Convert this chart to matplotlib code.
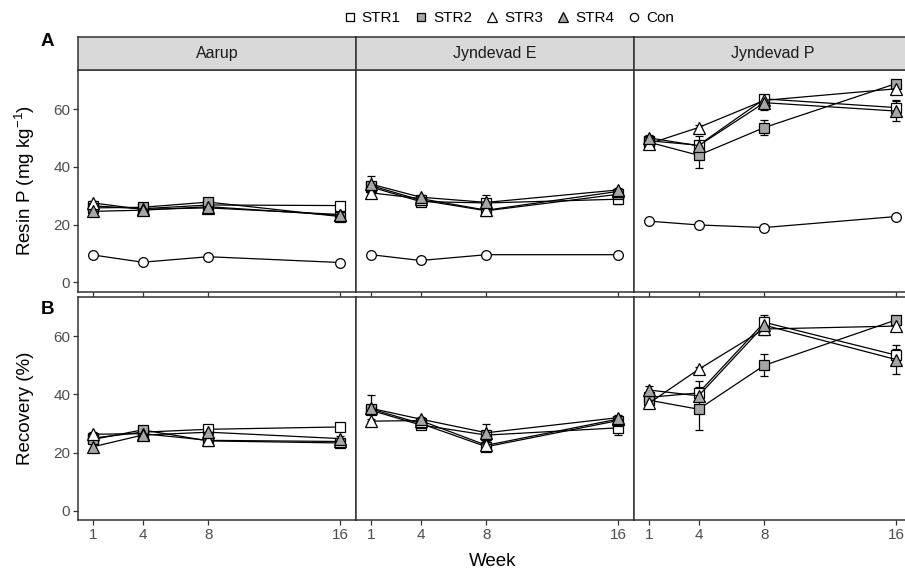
import matplotlib
matplotlib.use("Agg")
import matplotlib.pyplot as plt
from matplotlib.lines import Line2D

plt.rcParams['font.family'] = ['Liberation Sans', 'DejaVu Sans']
plt.rcParams['mathtext.fontset'] = 'custom'
plt.rcParams['mathtext.rm'] = 'Liberation Sans'
plt.rcParams['mathtext.it'] = 'Liberation Sans:italic'
plt.rcParams['mathtext.bf'] = 'Liberation Sans:bold'

# ---------------- data ----------------
weeks = [1, 4, 8, 16]
sites = ["Aarup", "Jyndevad E", "Jyndevad P"]
series = ["STR1", "STR2", "STR3", "STR4", "Con"]

# Resin P (mg kg-1): rows = STR1, STR2, STR3, STR4, Con
resin_aarup = [[26.5, 25.5, 26.8, 26.6],
               [25.8, 26.0, 27.8, 22.8],
               [27.5, 25.3, 25.8, 23.5],
               [24.6, 25.0, 26.2, 23.2],
               [9.5, 7.0, 8.9, 6.9]]
resin_aarup_err = [[0.8, 0.8, 0.8, 0.8],
                   [0.8, 0.8, 0.8, 0.8],
                   [0.8, 0.8, 0.8, 0.8],
                   [0.8, 0.8, 0.8, 0.8],
                   [0.3, 0.3, 0.3, 0.3]]
resin_jyne = [[33.0, 28.0, 27.5, 28.8],
              [33.5, 28.5, 24.8, 30.5],
              [31.0, 29.0, 25.0, 31.5],
              [34.0, 29.5, 27.7, 32.0],
              [9.6, 7.6, 9.6, 9.6]]
resin_jyne_err = [[1.0, 0.8, 0.8, 1.5],
                  [1.0, 0.8, 0.8, 0.8],
                  [0.8, 0.8, 0.8, 0.8],
                  [3.0, 0.8, 2.5, 0.8],
                  [0.3, 0.3, 0.3, 0.3]]
resin_jynp = [[49.0, 47.5, 63.5, 60.5],
              [48.5, 44.0, 53.6, 68.8],
              [48.0, 53.6, 63.0, 67.0],
              [50.0, 47.3, 62.2, 59.3],
              [21.2, 19.9, 19.0, 22.8]]
resin_jynp_err = [[1.0, 1.5, 1.0, 2.5],
                  [1.0, 4.5, 2.7, 1.0],
                  [0.8, 0.8, 0.8, 1.0],
                  [1.0, 3.5, 2.5, 3.5],
                  [0.3, 0.3, 0.3, 0.3]]

# Recovery (%)
rec_aarup = [[25.0, 27.0, 28.0, 28.8],
             [24.5, 27.8, 24.0, 23.3],
             [26.3, 26.5, 24.2, 23.8],
             [22.0, 26.0, 27.0, 24.8]]
rec_aarup_err = [[1.0, 1.0, 1.5, 0.8],
                 [0.8, 1.0, 1.0, 0.8],
                 [0.8, 0.8, 0.8, 0.8],
                 [0.8, 0.8, 1.0, 0.8]]
rec_jyne = [[34.5, 29.5, 26.0, 28.5],
            [35.0, 30.0, 22.0, 31.0],
            [30.8, 31.0, 22.5, 31.5],
            [35.2, 31.5, 26.8, 32.0]]
rec_jyne_err = [[1.0, 0.8, 0.8, 2.5],
                [1.0, 0.8, 1.0, 0.8],
                [0.8, 0.8, 0.8, 0.8],
                [4.5, 0.8, 3.0, 0.8]]
rec_jynp = [[39.0, 40.5, 64.8, 53.5],
            [38.0, 34.9, 50.0, 65.6],
            [37.0, 48.6, 62.5, 63.5],
            [41.5, 39.5, 63.8, 52.0]]
rec_jynp_err = [[1.0, 2.0, 1.0, 2.0],
                [1.5, 7.0, 3.8, 1.5],
                [0.8, 0.8, 0.8, 1.0],
                [1.5, 5.0, 3.5, 5.0]]

resin_rows = [(resin_aarup, resin_aarup_err), (resin_jyne, resin_jyne_err), (resin_jynp, resin_jynp_err)]
rec_rows = [(rec_aarup, rec_aarup_err), (rec_jyne, rec_jyne_err), (rec_jynp, rec_jynp_err)]

# ---------------- style ----------------
GREY = '#A6A6A6'
styles = {
    "STR1": dict(marker='s', mfc='white', ms=6.5),
    "STR2": dict(marker='s', mfc=GREY, ms=6.5),
    "STR3": dict(marker='^', mfc='white', ms=8),
    "STR4": dict(marker='^', mfc=GREY, ms=8),
    "Con": dict(marker='o', mfc='white', ms=7),
}
DARK = '#333333'

W, H = 905, 571
fig = plt.figure(figsize=(W / 100, H / 100), dpi=100)


def rect(x0, y0, x1, y1):
    return [x0 / W, 1 - y1 / H, (x1 - x0) / W, (y1 - y0) / H]


cols = [(78, 356), (356, 634), (634, 912)]
rowsy = [(70, 291.7), (297, 520)]
strip_y = (37, 70)


def style_ax(ax, left, bottom_labels):
    ax.set_xlim(0.08, 16.97)
    ax.set_ylim(-3.2, 73.5)
    ax.set_xticks(weeks)
    ax.set_yticks([0, 20, 40, 60])
    for s in ax.spines.values():
        s.set_color(DARK)
        s.set_linewidth(1.1)
    ax.tick_params(axis='both', direction='out', length=3.5, width=0.9,
                   color=DARK, labelsize=11, labelcolor='#4D4D4D', pad=2)
    if not left:
        ax.tick_params(axis='y', left=False, labelleft=False)
    if not bottom_labels:
        ax.tick_params(axis='x', labelbottom=False)


for ri, (datarows, yr) in enumerate(zip([resin_rows, rec_rows], rowsy)):
    for ci, (x0, x1) in enumerate(cols):
        ax = fig.add_axes(rect(x0, yr[0], x1, yr[1]))
        style_ax(ax, ci == 0, ri == 1)
        vals, errs = datarows[ci]
        for si in range(len(vals)):
            name = series[si]
            st = styles[name]
            ax.errorbar(weeks, vals[si], yerr=errs[si], fmt='none', ecolor='black',
                        elinewidth=0.9, capsize=3, capthick=0.9, zorder=2)
            ax.plot(weeks, vals[si], color='black', lw=0.9, marker=st['marker'],
                    mfc=st['mfc'], mec='black', mew=0.9, ms=st['ms'], zorder=3 + si)
        if ri == 0:
            sax = fig.add_axes(rect(x0, strip_y[0], x1, strip_y[1]))
            sax.set_facecolor('#D9D9D9')
            sax.set_xticks([])
            sax.set_yticks([])
            for s in sax.spines.values():
                s.set_color(DARK)
                s.set_linewidth(1.1)
            sax.text(0.5, 0.5, sites[ci], ha='center', va='center', fontsize=11.5,
                     color='#1A1A1A', transform=sax.transAxes)

# axis titles
fig.text(25 / W, 1 - 181 / H, 'Resin P (mg kg$^{-1}$)', rotation=90, ha='center', va='center',
         fontsize=13.5, color='black')
fig.text(25 / W, 1 - 408.5 / H, 'Recovery (%)', rotation=90, ha='center', va='center',
         fontsize=13.5, color='black')
fig.text(493 / W, 1 - 562 / H, 'Week', ha='center', va='center', fontsize=13.5)
fig.text(47 / W, 1 - 41 / H, 'A', ha='center', va='center', fontsize=13.5, fontweight='bold')
fig.text(47 / W, 1 - 309 / H, 'B', ha='center', va='center', fontsize=13.5, fontweight='bold')

# legend
handles = [Line2D([], [], linestyle='none', marker=styles[n]['marker'], mfc=styles[n]['mfc'],
                  mec='black', mew=0.9, ms=styles[n]['ms'] * 0.85) for n in series]
fig.legend(handles, series, loc='center', bbox_to_anchor=(508 / W, 1 - 18 / H), ncol=5,
           frameon=False, fontsize=11, handletextpad=0.3, columnspacing=0.8,
           handlelength=1.0, borderaxespad=0)

fig.savefig('out.png', dpi=100)
